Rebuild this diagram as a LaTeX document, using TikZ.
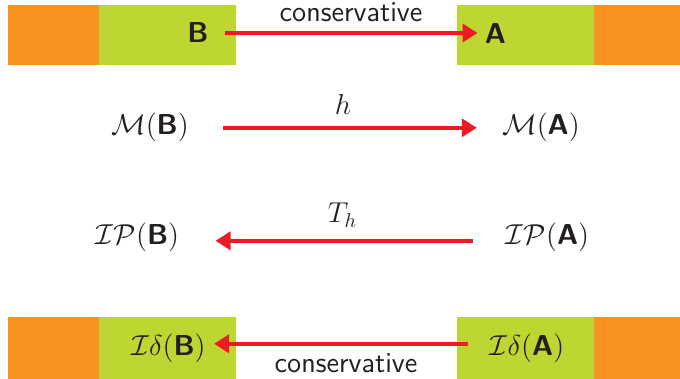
\documentclass[tikz,border=0pt]{standalone}
\usepackage{fontspec}
\usetikzlibrary{arrows.meta}
\definecolor{bandorange}{HTML}{F7931E}
\definecolor{bandgreen}{HTML}{BDD631}
\definecolor{arrred}{HTML}{ED1C24}
\definecolor{ink}{HTML}{231F20}
\newcommand{\bsf}[1]{\mbox{\sffamily\bfseries #1}}
\tikzset{
  lbl/.style={inner sep=0pt, anchor=base, text=ink, font=\fontsize{14.4}{17}\selectfont},
  txt/.style={lbl, font=\fontsize{14.4}{17}\selectfont\sffamily},
  arr/.style={draw=arrred, line width=2.15pt, -{Triangle[length=7.5pt,width=9pt]}},
}
\begin{document}
\begin{tikzpicture}[x=0.5pt,y=-0.5pt]
\useasboundingbox (0,0) rectangle (680,379);
% bands
\fill[bandorange] (8,5) rectangle (99,65);
\fill[bandgreen] (99,5) rectangle (236,65);
\fill[bandgreen] (457,5) rectangle (594,65);
\fill[bandorange] (594,5) rectangle (680,65);
\fill[bandorange] (8,317) rectangle (99,379);
\fill[bandgreen] (99,317) rectangle (236,379);
\fill[bandgreen] (457,317) rectangle (594,379);
\fill[bandorange] (594,317) rectangle (680,379);
% row 1
\node[txt, font=\fontsize{14.4}{17}\selectfont\sffamily\bfseries] (B) at (198,43) {B};
\node[txt, font=\fontsize{14.4}{17}\selectfont\sffamily\bfseries] (A) at (495.5,44) {A};
\node[txt] (cons1) at (351,22) {conservative};
\draw[arr, shorten <=8pt, shorten >=3.5pt] (B.east) -- (B.east -| A.west);
% row 2
\node[lbl] (MB) at (150,135) {$\mathcal{M}(\bsf{B})$};
\node[lbl] (MA) at (541,135) {$\mathcal{M}(\bsf{A})$};
\node[lbl] (h) at (343,115) {$h$};
\draw[arr, shorten <=17pt, shorten >=12.5pt] (MB.east) -- (MB.east -| MA.west);
% row 3
\node[lbl] (IPB) at (137.5,245) {$\mathcal{IP}(\bsf{B})$};
\node[lbl] (IPA) at (547.5,245) {$\mathcal{IP}(\bsf{A})$};
\node[lbl] (Th) at (342.5,223) {$T_h$};
\draw[arr, shorten <=16pt, shorten >=18pt] ([yshift=-1.5pt]IPA.west) -- ([yshift=-1.5pt]IPA.west -| IPB.east);
% row 4
\node[lbl] (IdB) at (168.5,355) {$\mathcal{I}\delta(\bsf{B})$};
\node[lbl] (IdA) at (527,355) {$\mathcal{I}\delta(\bsf{A})$};
\node[txt] (cons2) at (346,372) {conservative};
\draw[arr, shorten <=10.5pt, shorten >=4pt] ([yshift=2pt]IdA.west) -- ([yshift=2pt]IdA.west -| IdB.east);
\end{tikzpicture}
\end{document}
